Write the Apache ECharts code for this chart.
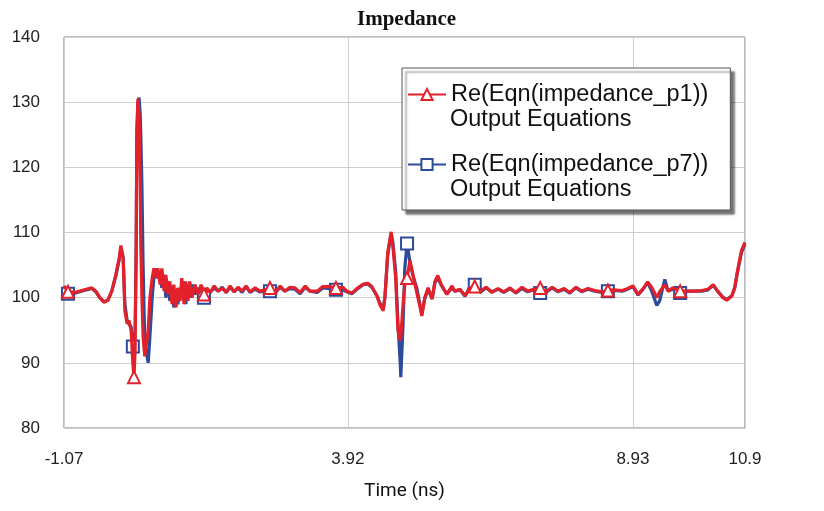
<!DOCTYPE html>
<html><head><meta charset="utf-8">
<script src="https://cdn.jsdelivr.net/npm/echarts@6/dist/echarts.min.js"></script>
<style>html,body{margin:0;padding:0;background:#fff}#c{width:824px;height:511px}</style>
</head><body><div id="c"></div>
<script>
// Time axis (ns)
const time = [
-1.07,-1.00,-0.88,-0.79,-0.68,-0.58,-0.51,-0.44,-0.37,-0.30,
-0.23,-0.16,-0.10,-0.07,-0.03,0.00,0.04,0.07,0.11,0.14,
0.16,0.18,0.20,0.21,0.23,0.25,0.27,0.28,0.30,0.32,
0.34,0.35,0.37,0.41,0.44,0.48,0.51,0.55,0.58,0.62,
0.65,0.69,0.72,0.76,0.79,0.83,0.86,0.90,0.93,0.97,
1.00,1.04,1.07,1.11,1.14,1.18,1.23,1.29,1.34,1.39,
1.44,1.50,1.57,1.64,1.71,1.78,1.85,1.92,1.99,2.06,
2.13,2.20,2.29,2.37,2.46,2.55,2.64,2.73,2.81,2.90,
2.99,3.08,3.17,3.25,3.38,3.48,3.60,3.71,3.83,3.90,
3.99,4.08,4.19,4.27,4.34,4.43,4.48,4.54,4.57,4.62,
4.68,4.71,4.76,4.80,4.84,4.85,4.89,4.92,4.96,5.01,
5.06,5.13,5.19,5.22,5.27,5.33,5.40,5.45,5.50,5.57,
5.66,5.75,5.80,5.89,5.98,6.07,6.15,6.24,6.35,6.45,
6.56,6.66,6.77,6.87,6.98,7.08,7.19,7.30,7.40,7.51,
7.61,7.72,7.82,7.93,8.03,8.14,8.26,8.39,8.49,8.60,
8.74,8.84,8.93,9.02,9.11,9.19,9.26,9.35,9.40,9.49,
9.55,9.63,9.76,9.90,10.02,10.14,10.25,10.34,10.42,10.51,
10.58,10.67,10.72,10.77,10.84,10.90
];
// Re(Eqn(impedance_p1))
const p1 = [
101.8,100.9,100.8,101.0,101.3,101.5,101.0,100.0,99.3,99.6,
101.0,103.5,106.0,108.0,106.0,98.0,96.0,96.5,95.0,90.0,
87.8,92.0,110.0,126.0,130.5,128.0,118.0,108.0,100.0,94.0,
92.0,91.0,90.8,95.0,100.0,103.0,104.5,103.0,104.5,102.0,
104.5,101.0,103.5,100.5,102.5,99.0,102.0,98.5,101.5,99.5,
103.0,99.0,102.5,99.5,102.5,100.0,102.0,100.5,102.0,100.5,
101.5,100.8,101.8,101.0,101.5,100.8,101.8,100.9,101.6,101.0,
101.8,100.9,101.5,101.0,101.2,101.5,100.8,101.8,101.0,101.6,
101.5,100.8,101.8,101.0,101.0,101.7,101.7,101.5,101.6,101.0,
100.7,101.4,102.1,102.2,101.7,100.3,99.0,98.0,100.0,106.9,
110.1,108.0,103.0,95.0,93.4,94.0,99.0,102.0,103.0,105.7,
103.7,100.8,98.5,97.2,100.0,101.5,99.8,102.5,103.4,101.8,
100.5,101.8,101.0,101.3,100.3,101.5,101.7,101.0,101.6,100.8,
101.4,100.9,101.5,100.8,101.6,101.0,101.3,101.5,100.9,101.6,
101.0,101.4,100.8,101.6,101.0,101.4,101.1,100.9,101.1,101.2,
101.1,101.4,101.8,100.5,101.4,102.4,101.6,100.0,100.9,102.0,
101.0,101.5,101.0,101.0,101.0,101.1,101.3,102.0,101.0,100.0,
99.6,100.3,101.6,104.2,107.3,108.5
];
// Re(Eqn(impedance_p7))
const p7 = [
101.5,100.6,100.7,100.9,101.2,101.4,100.9,100.0,99.4,99.6,
101.0,103.3,105.8,107.7,106.2,99.0,96.5,96.0,95.5,92.5,
92.0,95.0,108.0,124.0,130.0,130.7,128.0,125.0,117.0,105.0,
97.0,94.0,92.0,90.0,94.0,100.0,103.0,104.5,103.0,104.0,
101.5,103.5,100.0,102.5,99.5,101.5,98.5,101.0,99.0,101.5,
100.0,102.5,99.0,102.0,100.0,102.0,100.5,101.5,100.5,100.0,
101.0,100.8,101.5,101.0,101.6,100.8,101.6,100.9,101.5,100.8,
101.7,100.8,101.3,100.9,101.0,101.0,100.7,101.6,101.0,101.4,
101.3,100.6,101.6,101.0,100.8,101.5,101.4,101.2,101.2,100.9,
100.6,101.3,102.0,102.1,101.6,100.3,99.2,98.3,100.0,106.5,
109.8,108.5,104.0,96.0,90.0,87.8,96.0,104.5,108.3,105.5,
103.5,101.5,98.8,97.5,99.8,101.3,99.8,102.3,103.0,101.8,
100.6,101.5,101.0,101.2,100.2,101.8,102.0,100.8,101.5,100.9,
101.3,100.8,101.4,100.7,101.4,100.9,101.2,100.7,100.8,101.5,
100.9,101.3,100.7,101.5,100.9,101.3,101.0,100.8,101.0,101.1,
101.0,101.3,101.7,100.4,101.3,102.3,101.0,98.8,99.5,102.8,
101.0,101.3,100.7,101.0,101.0,101.0,101.2,101.9,101.0,100.1,
99.7,100.3,101.5,104.0,107.0,108.2
];
// marker positions (ns)
const markersP1 = [-1.00,0.16,1.39,2.55,3.71,4.96,6.15,7.30,8.49,9.76];
const markersP7 = [-1.00,0.14,1.39,2.55,3.71,4.96,6.15,7.30,8.49,9.76];
const xTicks = [-1.07, 3.92, 8.93, 10.9];
const nameP1 = 'Re(Eqn(impedance_p1))';
const nameP7 = 'Re(Eqn(impedance_p7))';
const subLabel = 'Output Equations';

function nearestIndex(t){
  let b = 0;
  time.forEach((v,i)=>{ if (Math.abs(v-t) < Math.abs(time[b]-t)) b = i; });
  return b;
}
function build(vals, markers, sym){
  const idx = new Set(markers.map(nearestIndex));
  return time.map((t,i)=> ({value:[t, vals[i]], symbol: idx.has(i) ? sym : 'none'}));
}

const RED = '#e3212a', BLUE = '#2c4b9b';
const legLeft = 402, legTop = 68, legPadL = 5, iconW = 38;
const chart = echarts.init(document.getElementById('c'));
chart.setOption({
  animation: false,
  backgroundColor: '#fff',
  title: {
    text: 'Impedance', left: 352, top: 4,
    textStyle: {fontFamily: 'Liberation Serif', fontWeight: 'bold', fontSize: 21, color: '#111'}
  },
  grid: {left: 64, right: 79, top: 37, bottom: 83, show: true, borderColor: '#7a7a7a', borderWidth: 1},
  xAxis: {
    type: 'value', min: -1.07, max: 10.9,
    name: 'Time (ns)', nameLocation: 'middle', nameGap: 54,
    nameTextStyle: {fontFamily: 'Roboto', fontSize: 19, color: '#111'},
    axisLine: {show: false},
    axisTick: {show: false, customValues: xTicks},
    axisLabel: {customValues: xTicks, margin: 23, fontFamily: 'Liberation Sans', fontSize: 17, color: '#222',
      formatter: v => String(v)},
    splitLine: {show: true, lineStyle: {color: '#cfcfcf', width: 1}}
  },
  yAxis: {
    type: 'value', min: 80, max: 140, interval: 10,
    axisLine: {show: false}, axisTick: {show: false},
    axisLabel: {margin: 24, fontFamily: 'Liberation Sans', fontSize: 17, color: '#222'},
    splitLine: {show: true, lineStyle: {color: '#cfcfcf', width: 1}}
  },
  legend: {
    data: [nameP1, nameP7], orient: 'vertical', left: legLeft, top: legTop,
    padding: [14, 22, 33, legPadL], itemGap: 45, itemWidth: iconW, itemHeight: 14,
    backgroundColor: '#fff', borderColor: '#555', borderWidth: 1,
    shadowColor: 'rgba(0,0,0,0.55)', shadowOffsetX: 4, shadowOffsetY: 4, shadowBlur: 2,
    textStyle: {fontFamily: 'Liberation Sans', fontSize: 23.5, color: '#111', lineHeight: 25}
  },
  graphic: [
    {type: 'text', z: 100, left: legLeft + legPadL + iconW + 5, top: 108,
      style: {text: subLabel, font: '23.5px "Liberation Sans"', fill: '#111'}},
    {type: 'text', z: 100, left: legLeft + legPadL + iconW + 5, top: 178,
      style: {text: subLabel, font: '23.5px "Liberation Sans"', fill: '#111'}}
  ],
  series: [
    {
      name: nameP7, type: 'line', data: build(p7, markersP7, 'emptyRect'),
      symbol: 'emptyRect', symbolSize: 12, showSymbol: true, showAllSymbol: true,
      color: BLUE, lineStyle: {color: BLUE, width: 3.2}, itemStyle: {color: BLUE, borderWidth: 2.5},
      z: 2
    },
    {
      name: nameP1, type: 'line', data: build(p1, markersP1, 'emptyTriangle'),
      symbol: 'emptyTriangle', symbolSize: 12, showSymbol: true, showAllSymbol: true,
      color: RED, lineStyle: {color: RED, width: 3.2}, itemStyle: {color: RED, borderWidth: 2.5},
      z: 3
    }
  ]
});
</script></body></html>
